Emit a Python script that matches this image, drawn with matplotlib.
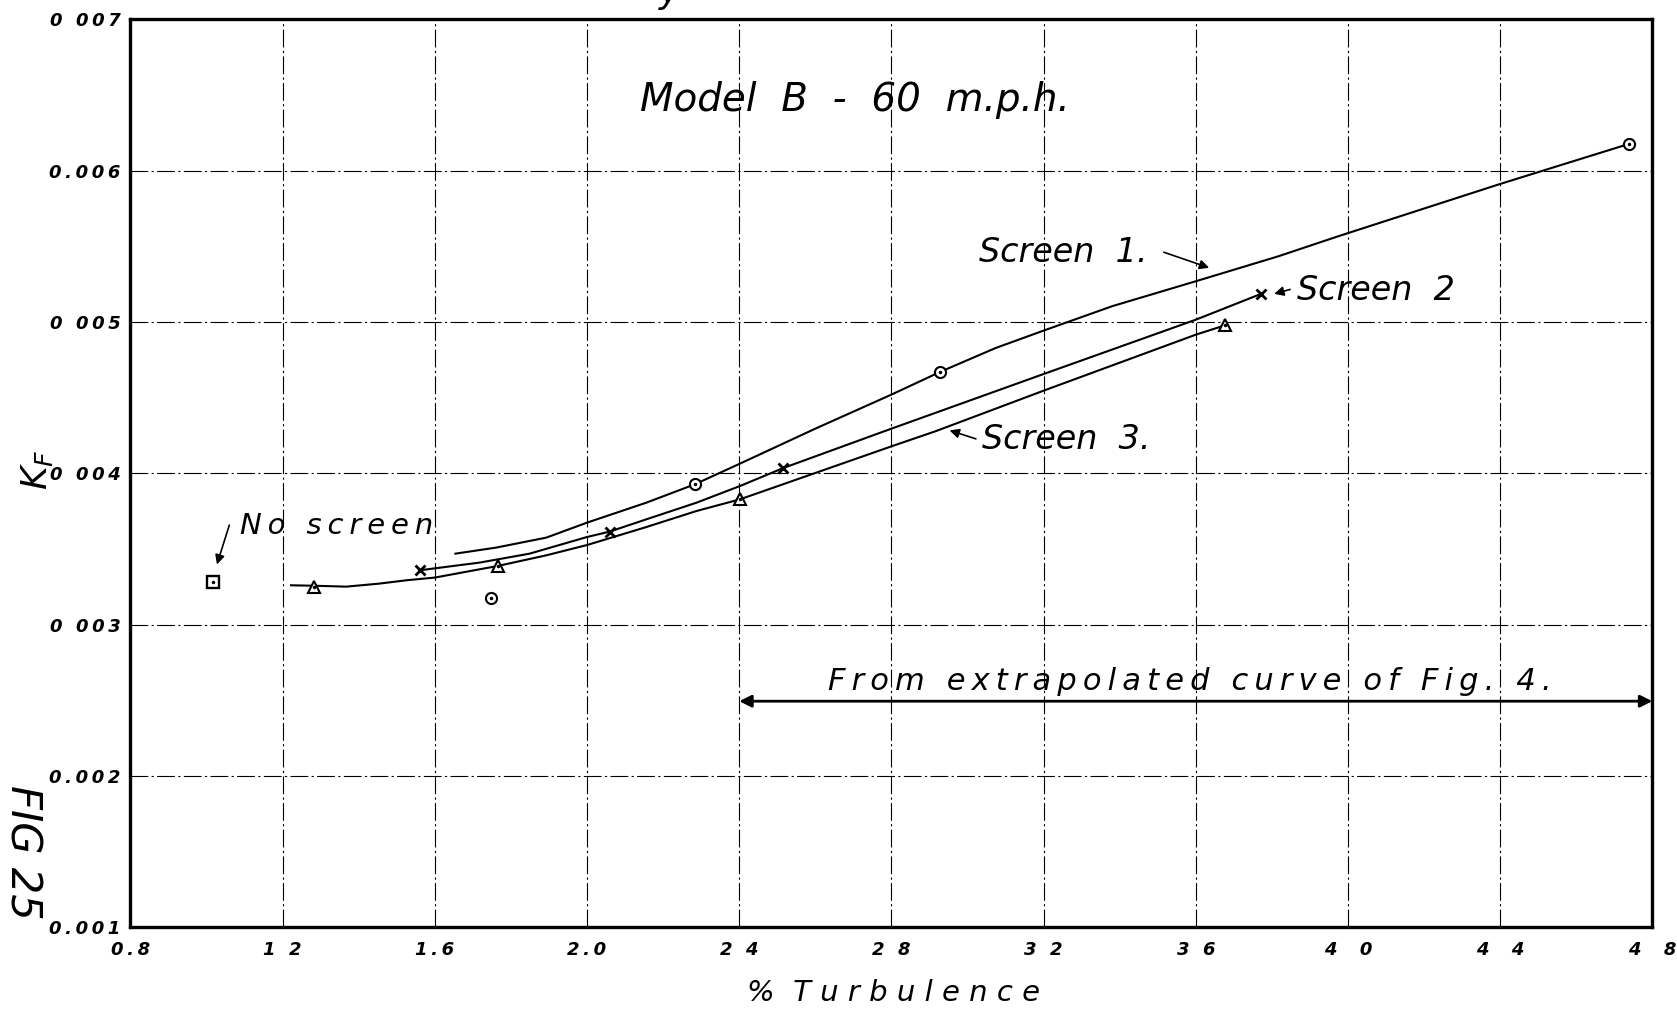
import numpy as np
import matplotlib.pyplot as plt

# curvas (x = % turbulencia, y = K_F)
s1_x = [1.654, 1.761, 1.893, 2.0, 2.156, 2.283, 2.402, 2.6, 2.8, 2.928, 3.074, 3.2, 3.38,
        3.6, 3.817, 3.974, 4.4, 4.739]
s1_y = [0.003469, 0.003509, 0.003575, 0.003674, 0.003806, 0.003927, 0.004064, 0.004295,
        0.004520, 0.004670, 0.004828, 0.004943, 0.005104, 0.005269, 0.005434, 0.005566,
        0.005912, 0.006177]
s2_x = [1.56, 1.6, 1.718, 1.849, 2.0, 2.06, 2.156, 2.288, 2.402, 2.516, 2.8, 3.2, 3.6, 3.771]
s2_y = [0.003359, 0.003372, 0.003410, 0.003469, 0.003579, 0.003615, 0.003696, 0.003806,
        0.003916, 0.004035, 0.004295, 0.004656, 0.005015, 0.005185]
s3_x = [1.222, 1.282, 1.367, 1.454, 1.525, 1.6, 1.766, 1.893, 2.0, 2.156, 2.288, 2.402,
        2.8, 2.916, 3.2, 3.6, 3.677]
s3_y = [0.003260, 0.003257, 0.003251, 0.003271, 0.003293, 0.003311, 0.003388, 0.003458,
        0.003526, 0.003645, 0.003751, 0.003828, 0.004178, 0.004278, 0.004546, 0.004916,
        0.004978]

# puntos medidos
p1_x = [2.283, 2.928, 4.739, 1.748]
p1_y = [0.003927, 0.004670, 0.006177, 0.003178]
p2_x = [1.56, 2.06, 2.516, 3.771]
p2_y = [0.003359, 0.003615, 0.004035, 0.005185]
p3_x = [1.282, 1.766, 2.402, 3.677]
p3_y = [0.003250, 0.003385, 0.003828, 0.004980]
p0_x = [1.017]
p0_y = [0.003282]

xticks = [0.8, 1.2, 1.6, 2.0, 2.4, 2.8, 3.2, 3.6, 4.0, 4.4, 4.8]
xlabels = ["0.8", "1 2", "1.6", "2.0", "2 4", "2 8", "3 2", "3 6", "4  0", "4  4", "4  8"]
yticks = [0.001, 0.002, 0.003, 0.004, 0.005, 0.006, 0.007]
ylabels = ["0.001", "0.002", "0 003", "0 004", "0 005", "0.006", "0 007"]

def spaced(s):
    # letras separadas como en la rotulacion a mano
    return "\u2009".join(s)

fig = plt.figure(figsize=(16.77, 10.11), dpi=100)
ax = fig.add_axes([0.0778, 0.0828, 0.9075, 0.8981])

ax.plot(s1_x, s1_y, c="k", lw=1.5)
ax.plot(s2_x, s2_y, c="k", lw=1.5)
ax.plot(s3_x, s3_y, c="k", lw=1.5)

ax.plot(p1_x, p1_y, "o", ms=8, mfc="white", mec="k", mew=1.5)
ax.plot(p1_x, p1_y, ".", ms=3, c="k")
ax.plot(p2_x, p2_y, "x", ms=7, c="k", mew=2)
ax.plot(p3_x, p3_y, "^", ms=9, mfc="white", mec="k", mew=1.5)
ax.plot(p3_x, p3_y, ".", ms=3, c="k")
ax.plot(p0_x, p0_y, "s", ms=8, mfc="white", mec="k", mew=1.7)
ax.plot(p0_x, p0_y, ".", ms=3, c="k")

ax.set_xlim(0.8, 4.8)
ax.set_ylim(0.001, 0.007)
ax.set_xticks(xticks)
ax.set_xticklabels([spaced(l) for l in xlabels])
ax.set_yticks(yticks)
ax.set_yticklabels([spaced(l) for l in ylabels])
ax.tick_params(axis="x", length=0, pad=10)
ax.tick_params(axis="y", length=0, pad=7)
for t in ax.get_xticklabels() + ax.get_yticklabels():
    t.set_fontsize(13)
    t.set_fontweight("bold")
    t.set_fontstyle("italic")
ax.grid(True, color="k", lw=0.8, ls=(0, (16, 3, 2, 3)))
for sp in ax.spines.values():
    sp.set_linewidth(2.4)

hand = dict(style="italic", color="k")
ax.text(2.705, 0.006465, "Model  B  -  60  m.p.h.", ha="center", va="center", fontsize=28, **hand)

ax.annotate("", xy=(3.642, 0.005352), xytext=(3.509, 0.005467),
            arrowprops=dict(arrowstyle="-|>", color="k", lw=1.2, mutation_scale=14))
ax.text(3.030, 0.005456, "Screen  1.", ha="left", va="center", fontsize=24, **hand)

ax.annotate("", xy=(3.799, 0.005181), xytext=(3.855, 0.00522),
            arrowprops=dict(arrowstyle="-|>", color="k", lw=1.2, mutation_scale=14))
ax.text(3.865, 0.005205, "Screen  2", ha="left", va="center", fontsize=24, **hand)

ax.annotate("", xy=(2.946, 0.004289), xytext=(3.029, 0.004222),
            arrowprops=dict(arrowstyle="-|>", color="k", lw=1.2, mutation_scale=14))
ax.text(3.039, 0.004222, "Screen  3.", ha="left", va="center", fontsize=24, **hand)

ax.annotate("", xy=(1.025, 0.00338), xytext=(1.062, 0.003675),
            arrowprops=dict(arrowstyle="-|>", color="k", lw=1.2, mutation_scale=14))
ax.text(1.087, 0.003652, spaced("No screen"), ha="left", va="center", fontsize=21, **hand)

ax.annotate("", xy=(2.4, 0.002494), xytext=(4.8, 0.002494),
            arrowprops=dict(arrowstyle="<|-|>", color="k", lw=2, mutation_scale=18,
                            shrinkA=0, shrinkB=0))
ax.text(3.585, 0.002622, spaced("From extrapolated curve of Fig. 4."), ha="center",
        va="center", fontsize=22, **hand)

fig.text(0.5325, 0.018, "%  T u r b u l e n c e", ha="center", va="center", fontsize=21, **hand)
fig.text(0.022, 0.535, r"$K_F$", rotation=90, ha="center", va="center", fontsize=26)
fig.text(0.001, 0.157, "FIG 25", rotation=-90, ha="left", va="center", fontsize=30, **hand)
fig.text(0.399, 0.997, "y", ha="center", va="baseline", fontsize=26, **hand)

fig.savefig("out.png", dpi=100)
